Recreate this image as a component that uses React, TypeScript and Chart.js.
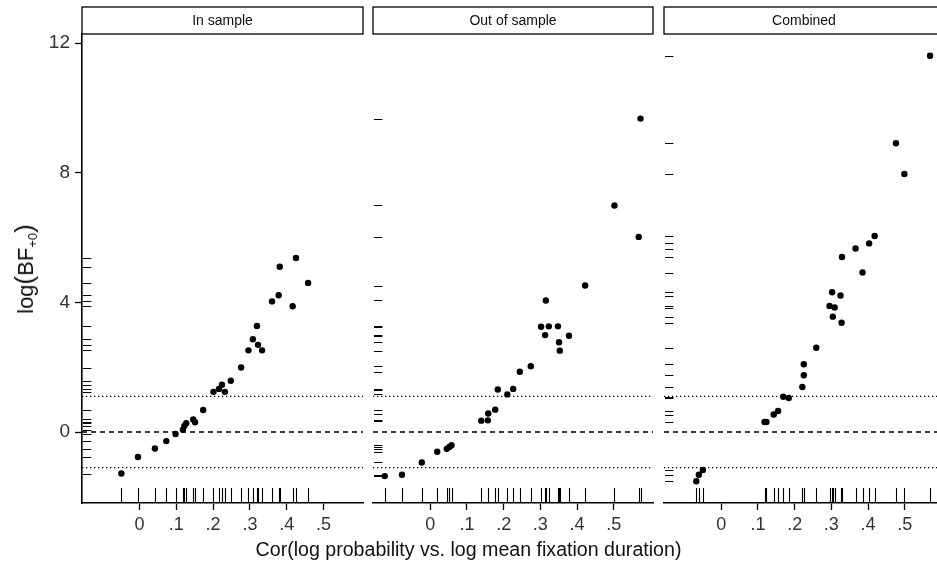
import React, { useEffect, useRef } from "react";
import { Chart, registerables } from "chart.js";

Chart.register(...registerables);

const FONT = '"Liberation Sans", Arial, Helvetica, sans-serif';

// ---------- data ----------
const panelTitles = ["In sample", "Out of sample", "Combined"];

const inSampleX = [-0.049, -0.004, 0.042, 0.073, 0.098, 0.118, 0.122, 0.127, 0.146, 0.151, 0.173, 0.201, 0.216, 0.224, 0.232, 0.248, 0.276, 0.296, 0.308, 0.319, 0.322, 0.333, 0.36, 0.378, 0.381, 0.416, 0.425, 0.458];
const inSampleY = [-1.28, -0.77, -0.51, -0.28, -0.06, 0.07, 0.19, 0.27, 0.39, 0.3, 0.68, 1.24, 1.33, 1.46, 1.24, 1.58, 1.99, 2.52, 2.86, 3.27, 2.69, 2.52, 4.03, 4.22, 5.1, 3.88, 5.37, 4.6];

const outSampleX = [-0.124, -0.077, -0.023, 0.019, 0.045, 0.052, 0.058, 0.139, 0.157, 0.158, 0.177, 0.184, 0.21, 0.226, 0.244, 0.274, 0.302, 0.313, 0.315, 0.323, 0.348, 0.351, 0.353, 0.378, 0.422, 0.502, 0.568, 0.573];
const outSampleY = [-1.36, -1.32, -0.94, -0.61, -0.52, -0.46, -0.41, 0.35, 0.36, 0.57, 0.69, 1.31, 1.16, 1.33, 1.86, 2.03, 3.25, 2.99, 4.06, 3.26, 3.26, 2.77, 2.51, 2.97, 4.52, 6.99, 6.02, 9.67];

const combinedX = [-0.068, -0.061, -0.05, 0.118, 0.123, 0.143, 0.155, 0.169, 0.184, 0.221, 0.225, 0.225, 0.259, 0.295, 0.302, 0.304, 0.309, 0.325, 0.328, 0.329, 0.366, 0.385, 0.403, 0.418, 0.476, 0.499, 0.569];
const combinedY = [-1.52, -1.32, -1.17, 0.31, 0.31, 0.54, 0.65, 1.09, 1.05, 1.39, 1.75, 2.09, 2.6, 3.89, 4.31, 3.56, 3.84, 4.21, 3.37, 5.4, 5.66, 4.92, 5.82, 6.05, 8.91, 7.96, 11.61];

const xTicks = [0, 0.1, 0.2, 0.3, 0.4, 0.5];
const xTickLabels = ["0", ".1", ".2", ".3", ".4", ".5"];
const yTicks = [0, 4, 8, 12];
const yTickLabels = ["0", "4", "8", "12"];
const xLimits = [-0.156, 0.607];
const yLimits = [-2.19, 12.28];
const dashedRefs = [0];
const dottedRefs = [1.0986, -1.0986];

const xTitle = "Cor(log probability vs. log mean fixation duration)";

// ---------- layout ----------
const W = 937;
const H = 561;
const AREA_TOP = 34;
const AREA_BOTTOM = 503;
const STRIP_TOP = 7;

const panelBoxes = [
  { canvasLeft: 0, canvasWidth: 368, areaLeft: 82, areaRight: 363, yAxis: true },
  { canvasLeft: 368, canvasWidth: 290, areaLeft: 373, areaRight: 653, yAxis: false },
  { canvasLeft: 658, canvasWidth: 300, areaLeft: 664, areaRight: 944, yAxis: false },
];

const seriesX = [inSampleX, outSampleX, combinedX];
const seriesY = [inSampleY, outSampleY, combinedY];

const stripPlugin = {
  id: "strip",
  afterDraw(chart: any, _args: any, opts: any) {
    const { ctx, chartArea } = chart;
    const h = AREA_TOP - STRIP_TOP;
    ctx.save();
    ctx.fillStyle = "#ffffff";
    ctx.fillRect(chartArea.left, STRIP_TOP, chartArea.right - chartArea.left, h);
    ctx.strokeStyle = "#000";
    ctx.lineWidth = 1.3;
    ctx.strokeRect(chartArea.left, STRIP_TOP, chartArea.right - chartArea.left, h);
    ctx.fillStyle = "#111";
    ctx.font = `14px ${FONT}`;
    ctx.textAlign = "center";
    ctx.textBaseline = "middle";
    ctx.fillText(opts.text, (chartArea.left + chartArea.right) / 2, STRIP_TOP + h / 2 + 0.5);
    ctx.restore();
  },
};

const rugPlugin = {
  id: "rug",
  afterDatasetsDraw(chart: any) {
    const { ctx, chartArea, scales } = chart;
    const ds = chart.data.datasets.find((d: any) => d.rug);
    if (!ds) return;
    const xl = 0.03 * (chartArea.bottom - chartArea.top);
    const yl = 0.03 * (chartArea.right - chartArea.left);
    ctx.save();
    ctx.strokeStyle = "#000";
    ctx.lineWidth = 1.1;
    ctx.beginPath();
    for (const p of ds.data) {
      const px = Math.round(scales.x.getPixelForValue(p.x)) + 0.5;
      const py = Math.round(scales.y.getPixelForValue(p.y)) + 0.5;
      ctx.moveTo(px, chartArea.bottom - 1);
      ctx.lineTo(px, chartArea.bottom - 1 - xl);
      ctx.moveTo(chartArea.left + 1, py);
      ctx.lineTo(chartArea.left + 1 + yl, py);
    }
    ctx.stroke();
    ctx.restore();
  },
};

function refLine(y: number, dash: number[], width: number) {
  return {
    data: [
      { x: xLimits[0], y },
      { x: xLimits[1], y },
    ],
    showLine: true,
    borderColor: "#000",
    borderWidth: width,
    borderDash: dash,
    pointRadius: 0,
    order: 2,
  };
}

function Panel({ index }: { index: number }) {
  const ref = useRef<HTMLCanvasElement | null>(null);
  const box = panelBoxes[index];
  useEffect(() => {
    if (!ref.current) return;
    const points = seriesX[index].map((x, i) => ({ x, y: seriesY[index][i] }));
    const chart = new Chart(ref.current, {
      type: "scatter",
      data: {
        datasets: [
          {
            data: points,
            rug: true,
            backgroundColor: "#000",
            borderWidth: 0,
            pointRadius: 3.2,
            pointHoverRadius: 3.2,
            order: 0,
          } as any,
          ...dashedRefs.map((v) => refLine(v, [5, 4], 1.3)),
          ...dottedRefs.map((v) => refLine(v, [1.3, 2.7], 1.4)),
        ],
      },
      options: {
        responsive: false,
        animation: false,
        devicePixelRatio: 1,
        events: [],
        layout: {
          autoPadding: false,
          padding: {
            left: box.yAxis ? 0 : box.areaLeft - box.canvasLeft,
            right: box.canvasLeft + box.canvasWidth - box.areaRight,
            top: AREA_TOP,
            bottom: 0,
          },
        },
        plugins: {
          legend: { display: false },
          tooltip: { enabled: false },
          title: { display: false },
          strip: { text: panelTitles[index] },
        } as any,
        scales: {
          x: {
            type: "linear",
            position: "bottom",
            min: xLimits[0],
            max: xLimits[1],
            afterBuildTicks: (s: any) => {
              s.ticks = xTicks.map((v) => ({ value: v }));
            },
            afterFit: (s: any) => {
              s.height = H - AREA_BOTTOM;
            },
            ticks: {
              autoSkip: false,
              maxRotation: 0,
              minRotation: 0,
              padding: 4,
              color: "#333",
              font: { family: FONT, size: 18 },
              callback: (_v: any, i: number) => xTickLabels[i],
            },
            grid: {
              drawOnChartArea: false,
              drawTicks: true,
              tickLength: 7,
              tickWidth: 1.3,
              tickColor: "#000",
              color: "#000",
            },
            border: { display: true, color: "#000", width: 1.6 },
          },
          y: {
            type: "linear",
            display: box.yAxis,
            min: yLimits[0],
            max: yLimits[1],
            afterBuildTicks: (s: any) => {
              s.ticks = yTicks.map((v) => ({ value: v }));
            },
            afterFit: (s: any) => {
              if (box.yAxis) s.width = box.areaLeft - box.canvasLeft;
            },
            ticks: {
              autoSkip: false,
              padding: 5,
              color: "#333",
              font: { family: FONT, size: 19 },
              callback: (_v: any, i: number) => yTickLabels[i],
            },
            grid: {
              drawOnChartArea: false,
              drawTicks: true,
              tickLength: 7,
              tickWidth: 1.3,
              tickColor: "#000",
              color: "#000",
            },
            border: { display: true, color: "#000", width: 1.6 },
          },
        },
      } as any,
      plugins: [stripPlugin, rugPlugin],
    });
    return () => chart.destroy();
  }, [index]);
  return (
    <canvas
      ref={ref}
      width={box.canvasWidth}
      height={H}
      style={{
        position: "absolute",
        left: box.canvasLeft,
        top: 0,
        width: box.canvasWidth,
        height: H,
      }}
    />
  );
}

export default function App() {
  return (
    <div
      style={{
        position: "absolute",
        left: 0,
        top: 0,
        width: W,
        height: H,
        overflow: "hidden",
        background: "#fff",
        fontFamily: FONT,
      }}
    >
      {panelBoxes.map((_, i) => (
        <Panel key={i} index={i} />
      ))}
      <div
        style={{
          position: "absolute",
          left: 0,
          top: 537.5,
          width: W,
          textAlign: "center",
          fontSize: 19.6,
          lineHeight: "22px",
          color: "#111",
          whiteSpace: "nowrap",
        }}
      >
        {xTitle}
      </div>
      <div
        style={{
          position: "absolute",
          left: 25.5,
          top: 269,
          transform: "translate(-50%, -50%) rotate(-90deg)",
          fontSize: 22,
          lineHeight: "26px",
          color: "#111",
          whiteSpace: "nowrap",
        }}
      >
        log<span style={{ fontSize: 26, lineHeight: 0 }}>(</span>BF
        <span style={{ fontSize: 13, verticalAlign: "-4px", lineHeight: 0 }}>+0</span>
        <span style={{ fontSize: 26, lineHeight: 0 }}>)</span>
      </div>
    </div>
  );
}
